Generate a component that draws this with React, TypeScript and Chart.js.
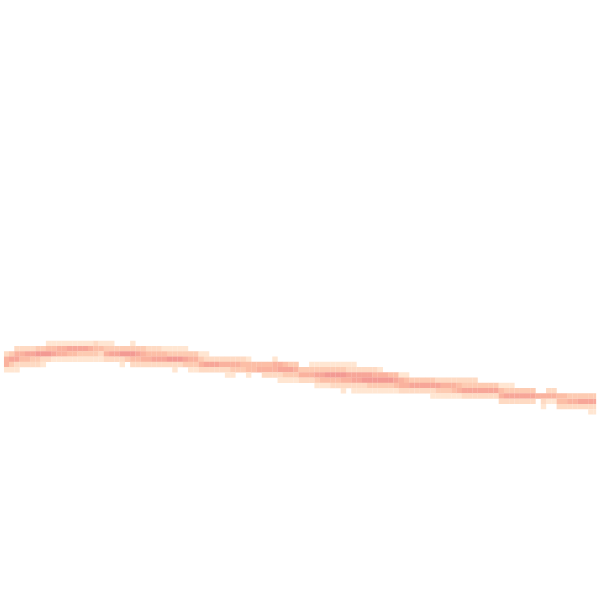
import React, { useEffect, useRef } from "react";
import { Chart, registerables } from "chart.js";

Chart.register(...registerables);

// Grid: 112.5 cells across each axis; first listed row index
const gridSize = 112.5;
const firstRow = 64;

// Intensity per column (0 = empty, 1..7), each string lists rows 64..77
const columns: string[] = [
  "00255100000000", "00363100000000", "02562100000000", "02542000000000", "02642000000000",
  "02632000000000", "03732000000000", "03721000000000", "14720000000000", "14610000000000",
  "15510000000000", "15510000000000", "16410000000000", "16410000000000", "16310000000000",
  "16310000000000", "15310000000000", "24310000000000", "14210000000000", "13520000000000",
  "13620000000000", "03620000000000", "03721000000000", "03730000000000", "13742000000000",
  "03642000000000", "03552000000000", "02452000000000", "02462000000000", "02462000000000",
  "01462000000000", "01372000000000", "01372100000000", "01372000000000", "01363000000000",
  "00353100000000", "00353100000000", "00135200000000", "00126200000000", "00026200000000",
  "00026200000000", "00025200000000", "00025210000000", "00025310000000", "00025300000000",
  "00024300000000", "00014410000000", "00004400000000", "00004500000000", "00004520000000",
  "00004520000000", "00015520000000", "00005621000000", "00004631000000", "00003631000000",
  "00003531000000", "00000352000000", "00000352000000", "00001352000000", "00001363100000",
  "00001364100000", "00001374100000", "00001374200000", "00001374200000", "00001375210000",
  "00001265200000", "00001266210000", "00000266210000", "00000267210000", "00000267310000",
  "00000257310000", "00000157310000", "00000057310000", "00000047310000", "00000046410000",
  "00000015520000", "00000014520000", "00000003620000", "00000003620000", "00000003620000",
  "00000003620000", "00000003621000", "00000002631000", "00000002531000", "00000002531000",
  "00000002541000", "00000002451000", "00000002362000", "00000002362000", "00000002362000",
  "00000000362000", "00000000362000", "00000000362000", "00000000362000", "00000000145200",
  "00000000136200", "00000000136200", "00000000036200", "00000000036200", "00000000036200",
  "00000000036200", "00000000005000", "00000000005210", "00000000025100", "00000000025100",
  "00000000004420", "00000000004420", "00000000003520", "00000000003520", "00000000003620",
  "00000000003620", "00000000003621", "00000000003621",
];

// Colour for each intensity level 1..7
const levelColors: string[] = [
  "rgb(255,230,210)",
  "rgb(254,218,195)",
  "rgb(253,203,178)",
  "rgb(252,190,166)",
  "rgb(250,178,158)",
  "rgb(247,166,152)",
  "rgb(243,154,147)",
];

export default function App() {
  const ref = useRef<HTMLCanvasElement | null>(null);

  useEffect(() => {
    if (!ref.current) return;
    const pts: { x: number; y: number }[] = [];
    const cols: string[] = [];
    columns.forEach((col, c) => {
      for (let i = 0; i < col.length; i++) {
        const v = Number(col[i]);
        if (v > 0) {
          pts.push({ x: c + 0.5, y: firstRow + i + 0.5 });
          cols.push(levelColors[v - 1]);
        }
      }
    });
    const cellPx = 600 / gridSize;
    const chart = new Chart(ref.current, {
      type: "scatter",
      data: {
        datasets: [
          {
            data: pts,
            backgroundColor: cols,
            borderWidth: 0,
            pointStyle: "rect",
            pointRadius: (cellPx + 0.1) / Math.SQRT2,
            pointHoverRadius: (cellPx + 0.1) / Math.SQRT2,
          },
        ],
      },
      options: {
        responsive: false,
        animation: false,
        layout: { padding: 0 },
        plugins: { legend: { display: false }, tooltip: { enabled: false } },
        scales: {
          x: { type: "linear", min: 0, max: gridSize, display: false },
          y: { type: "linear", min: 0, max: gridSize, reverse: true, display: false },
        },
      },
    });
    return () => chart.destroy();
  }, []);

  return (
    <div style={{ position: "fixed", left: 0, top: 0, width: 600, height: 600, background: "#fff" }}>
      <canvas ref={ref} width={600} height={600} />
    </div>
  );
}
